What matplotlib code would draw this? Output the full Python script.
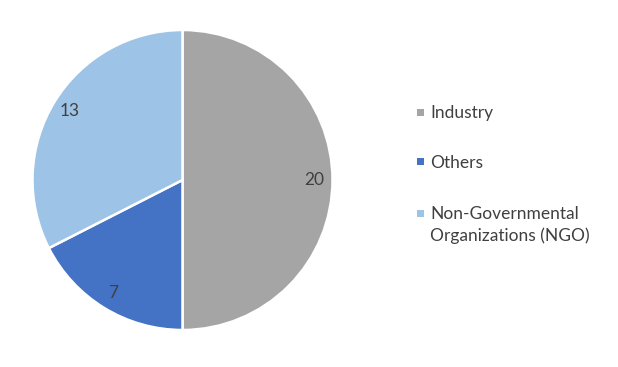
import matplotlib
matplotlib.use("Agg")
import matplotlib.pyplot as plt
from matplotlib.patches import Rectangle

categories = ["Industry", "Others", "Non-Governmental\nOrganizations (NGO)"]
values = [20, 7, 13]
colors = ["#A5A5A5", "#4472C4", "#9DC3E6"]

TEXT = "#404040"
W, H = 618, 367
plt.rcParams["font.family"] = ["Lato", "DejaVu Sans"]

fig = plt.figure(figsize=(W / 100, H / 100), dpi=100)
ax = fig.add_axes([32.5 / W, 37 / H, 300 / W, 300 / H])

wedges, _, autotexts = ax.pie(
    values, colors=colors, startangle=90, counterclock=False,
    autopct=lambda p: f"{p * sum(values) / 100:.0f}", pctdistance=0.88,
    wedgeprops=dict(edgecolor="white", linewidth=1.8),
)
for t in autotexts:
    t.set_color(TEXT)
    t.set_fontsize(12.5)
ax.set_xlim(-1, 1)
ax.set_ylim(-1, 1)
ax.set_aspect("equal")

# legend drawn by hand: square marker + label lines (pixel positions from top)
first_baseline = [118.3, 167.7, 219.0]
line_step = 22.5
for col, label, base in zip(colors, categories, first_baseline):
    fig.patches.append(Rectangle((416.8 / W, 1 - (base - 2.5) / H), 7 / W, 7 / H,
                                 transform=fig.transFigure, facecolor=col,
                                 edgecolor="none"))
    for i, line in enumerate(label.split("\n")):
        fig.text(430.5 / W, 1 - (base + i * line_step) / H, line,
                 fontsize=12.5, color=TEXT, ha="left", va="baseline")

fig.savefig("out.png", dpi=100)
